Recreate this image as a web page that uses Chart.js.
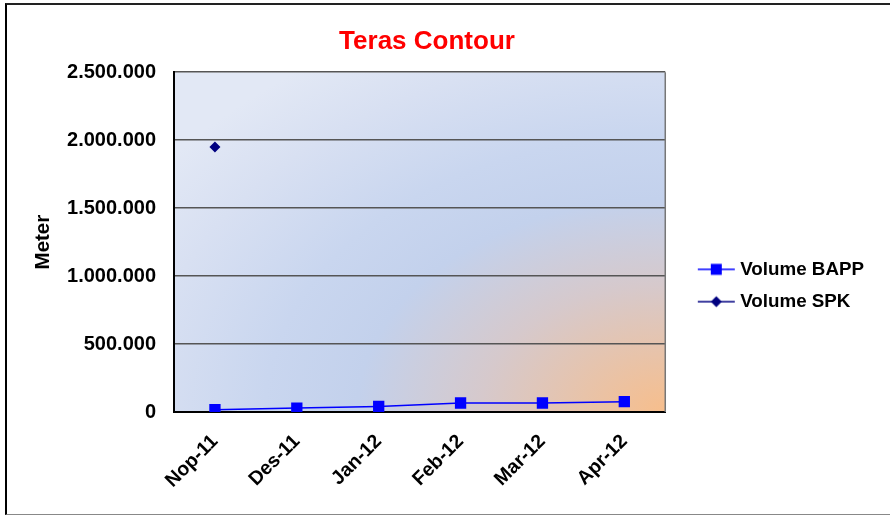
<!DOCTYPE html>
<html>
<head>
<meta charset="utf-8">
<script src="https://cdn.jsdelivr.net/npm/chart.js@4/dist/chart.umd.min.js"></script>
<style>
  html, body { margin: 0; padding: 0; background: #fff; }
  #wrap { position: relative; width: 890px; height: 517px; }
  #frame { position: absolute; left: 5px; top: 3px; width: 900px; height: 509px;
           border-left: 2px solid #000; border-top: 2px solid #222; border-bottom: 1px solid #888;
           pointer-events: none; }
  canvas { position: absolute; left: 0; top: 0; }
</style>
</head>
<body>
<div id="wrap">
  <canvas id="c" width="890" height="517"></canvas>
  <div id="frame"></div>
</div>
<script>
const categories = ['Nop-11', 'Des-11', 'Jan-12', 'Feb-12', 'Mar-12', 'Apr-12'];
const volumeBAPP = [17000, 29000, 41000, 66000, 66000, 76000];
const volumeSPK = [1950000, null, null, null, null, null];
const yTicks = [0, 500000, 1000000, 1500000, 2000000, 2500000];

const FONT = "'Liberation Sans', Arial, sans-serif";

// legend icon: transparent left part, then line with marker (image is centred in the legend box)
function legendIcon(color, style) {
  const cv = document.createElement('canvas');
  cv.width = 64; cv.height = 14;
  const g = cv.getContext('2d');
  const x0 = 25, x1 = 62, xm = (x0 + x1) / 2;
  g.strokeStyle = color; g.lineWidth = 1.5;
  g.beginPath(); g.moveTo(x0, 7); g.lineTo(x1, 7); g.stroke();
  g.fillStyle = color;
  if (style === 'rect') {
    g.fillRect(xm - 5.5, 1.5, 11, 11);
  } else {
    g.beginPath(); g.moveTo(xm, 1.5); g.lineTo(xm + 5.5, 7); g.lineTo(xm, 12.5); g.lineTo(xm - 5.5, 7); g.closePath(); g.fill();
  }
  return cv;
}

const bgPlugin = {
  id: 'plotBg',
  beforeDraw(chart) {
    const { ctx, chartArea: a } = chart;
    const w = a.right - a.left, h = a.bottom - a.top;
    ctx.save();
    ctx.beginPath(); ctx.rect(a.left, a.top, w, h); ctx.clip();
    ctx.translate(a.right, a.bottom);
    ctx.scale(1.45, 1);
    const r = h * 1.25;
    const grad = ctx.createRadialGradient(0, 0, 0, 0, 0, r);
    grad.addColorStop(0, '#f7be8c');
    grad.addColorStop(0.3, '#d6c9cc');
    grad.addColorStop(0.5, '#c3d1ec');
    grad.addColorStop(0.65, '#c9d6ef');
    grad.addColorStop(0.85, '#d8e0f2');
    grad.addColorStop(1.0, '#e2e8f5');
    ctx.fillStyle = grad;
    ctx.fillRect(-w * 2, -h * 2, w * 4, h * 4);
    ctx.restore();
  },
  beforeDatasetsDraw(chart) {
    const { ctx, chartArea: a } = chart;
    ctx.save();
    ctx.strokeStyle = '#777';
    ctx.lineWidth = 1.5;
    ctx.beginPath(); ctx.moveTo(a.right, a.top); ctx.lineTo(a.right, a.bottom); ctx.stroke();
    ctx.restore();
  }
};

new Chart(document.getElementById('c'), {
  type: 'line',
  data: {
    labels: categories,
    datasets: [
      {
        label: 'Volume BAPP',
        data: volumeBAPP,
        borderColor: '#0000ff',
        backgroundColor: '#0000ff',
        borderWidth: 1.5,
        pointStyle: 'rect',
        pointRadius: 8,
        pointBorderWidth: 0,
        pointBackgroundColor: '#0000ff',
        tension: 0
      },
      {
        label: 'Volume SPK',
        data: volumeSPK,
        borderColor: '#000080',
        backgroundColor: '#000080',
        borderWidth: 1.5,
        pointStyle: 'rectRot',
        pointRadius: 5.5,
        pointBorderWidth: 0,
        pointBackgroundColor: '#000080',
        spanGaps: false
      }
    ]
  },
  options: {
    responsive: false,
    animation: false,
    layout: { padding: { top: 4, left: -20, right: 16, bottom: 0 } },
    plugins: {
      title: {
        display: true,
        text: 'Teras Contour',
        color: '#ff0000',
        font: { family: FONT, size: 26, weight: 'bold' },
        padding: { top: 22, bottom: 15 }
      },
      legend: {
        position: 'right',
        align: 'center',
        maxWidth: 211,
        title: { display: true, text: ' ', font: { size: 10 }, padding: { top: 38, bottom: 0 } },
        labels: {
          color: '#000',
          font: { family: FONT, size: 18.8, weight: 'bold' },
          usePointStyle: true,
          pointStyleWidth: 52,
          padding: 13.5,
          generateLabels(chart) {
            return chart.data.datasets.map((ds, i) => ({
              text: ds.label,
              fontColor: '#000',
              datasetIndex: i,
              pointStyle: legendIcon(ds.borderColor, ds.pointStyle),
              hidden: false,
              lineWidth: 0
            }));
          }
        }
      },
      tooltip: { enabled: false }
    },
    scales: {
      x: {
        offset: true,
        grid: { display: false, drawTicks: false },
        border: { color: '#000', width: 2 },
        afterFit(scale) { scale.height = 105; },
        ticks: {
          color: '#000',
          font: { family: FONT, size: 19.5, weight: 'bold' },
          maxRotation: 45,
          minRotation: 45,
          padding: 18
        }
      },
      y: {
        min: 0,
        max: 2500000,
        afterBuildTicks(scale) { scale.ticks = yTicks.map(v => ({ value: v })); },
        afterFit(scale) { scale.width = 194; },
        grid: { color: '#555', lineWidth: 1.5, drawTicks: false },
        border: { color: '#000', width: 2 },
        title: {
          display: true,
          text: 'Meter',
          color: '#000',
          font: { family: FONT, size: 20.5, weight: 'bold' },
          padding: { top: 51, bottom: 0 }
        },
        ticks: {
          color: '#000',
          font: { family: FONT, size: 20, weight: 'bold' },
          padding: 18,
          callback: v => String(v).replace(/\B(?=(\d{3})+(?!\d))/g, '.')
        }
      }
    }
  },
  plugins: [bgPlugin]
});
</script>
</body>
</html>
